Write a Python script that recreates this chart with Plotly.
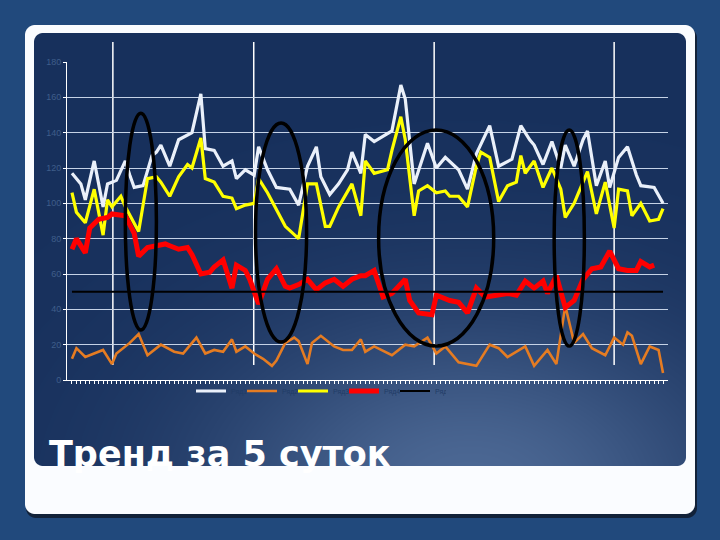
import base64, struct, zlib
import numpy as np
import plotly.graph_objects as go

# ---------------- data ----------------
white_x = [0,2,3,5,7,8,10,12,13,14,16,18,19,20,22,24,27,29,30,32,34,36,37,39,41,42,44,46,49,51,
           53,55,56,58,60,62,63,65,66,68,72,74,75,77,80,82,84,87,89,91,94,96,99,101,103,104,106,108,110,111,
           113,115,116,118,120,121,123,125,127,128,131,133]
white_y = [117,111,102,124,98,111,113,124,116,109,110,127,129,133,121,136,140,162,131,130,
           121,124,114,119,116,132,119,109,108,99,121,132,115,105,111,119,129,117,139,135,
           141,167,159,111,134,120,126,119,108,128,144,121,125,144,136,133,122,135,120,133,
           121,136,141,110,124,109,126,132,116,110,109,100]

orange_x = [0,1,3,5,7,9,10,13,15,17,20,23,25,28,30,32,34,36,37,39,41,43,45,46,48,50,51,53,54,56,
            59,61,63,65,66,68,72,75,77,80,82,84,87,91,94,96,98,102,104,107,109,111,113,115,117,120,122,124,125,126,
            128,130,132,133]
orange_y = [12,18,13,15,17,9,15,21,26,14,20,16,15,24,15,17,16,23,16,19,
            15,12,8,11,21,24,22,9,21,25,19,17,17,23,16,19,14,20,19,24,
            15,19,10,8,20,18,13,19,8,17,9,42,21,26,18,14,24,20,27,25,
            9,19,17,4]

yellow_x = [0,1,3,5,7,8,9,11,12,15,17,19,20,22,24,26,27,29,30,32,34,36,37,39,41,42,44,46,48,51,
            53,55,57,58,60,63,65,66,68,71,72,74,75,77,78,80,82,84,85,87,89,91,92,94,96,98,100,101,102,104,
            106,108,110,111,113,114,116,118,120,122,123,125,126,128,130,132,133]
yellow_y = [106,95,89,108,82,102,98,104,98,84,114,115,112,104,115,122,120,137,114,112,
            104,103,97,99,100,114,106,96,87,80,111,111,87,87,98,111,93,124,117,119,
            130,149,136,93,107,110,106,107,104,104,98,121,129,126,101,110,112,127,117,124,
            109,120,108,92,100,106,118,94,112,86,108,107,93,100,90,91,97]

red_x = [0,1,3,4,6,8,9,11,12,14,15,17,19,21,22,24,26,27,29,31,32,34,36,37,39,40,42,44,46,48,
         49,51,53,55,57,59,61,63,65,66,68,70,72,75,76,78,81,82,85,87,89,91,93,96,98,100,102,104,106,107,
         109,111,113,115,117,119,121,123,125,127,128,130,131]
red_y = [74,80,72,86,91,92,94,93,93,83,70,75,76,77,76,74,75,71,60,61,
         64,68,52,65,62,57,43,57,63,53,52,54,57,51,55,57,53,57,59,59,
         62,47,49,57,45,38,37,48,45,44,38,52,47,48,49,48,56,52,56,49,
         59,41,45,57,63,64,73,63,62,62,67,64,65]

norm_x = [0, 133]
norm_y = [50, 50]

series_names = ["Ряд1", "Ряд2", "Ряд3", "Ряд4", "Ряд5"]
y_ticks = [0, 20, 40, 60, 80, 100, 120, 140, 160, 180]

# highlighted regions (ellipses) and day separators, in data units
ell_x0 = [12.0, 41.3, 69.0, 108.5]
ell_x1 = [19.0, 52.8, 94.9, 115.3]
ell_y0 = [28.3, 21.5, 19.2, 19.2]
ell_y1 = [151.0, 145.5, 141.5, 141.5]
sep_x = [9.2, 40.9, 81.5, 122.0]

title_text = "Тренд за 5 суток"

# ---------------- background picture (slide frame) ----------------
W, H = 720, 540
ML, MR, MT, MB = 67, 52, 62, 160
PW, PH = W - ML - MR, H - MT - MB
XR = [-1.12, 134.12]
OUTER = (33, 73, 124)


def png_uri(arr):
    h, w, _ = arr.shape
    raw = b"".join(b"\x00" + arr[r].tobytes() for r in range(h))

    def chunk(t, d):
        c = struct.pack(">I", len(d)) + t + d
        return c + struct.pack(">I", zlib.crc32(t + d) & 0xFFFFFFFF)

    png = (b"\x89PNG\r\n\x1a\n"
           + chunk(b"IHDR", struct.pack(">IIBBBBB", w, h, 8, 2, 0, 0, 0))
           + chunk(b"IDAT", zlib.compress(raw, 9))
           + chunk(b"IEND", b""))
    return "data:image/png;base64," + base64.b64encode(png).decode()


yy, xx = np.mgrid[0:H, 0:W].astype(float) + 0.5


def rrect(x0, y0, x1, y1, r):
    cx = np.clip(xx, x0 + r, x1 - r)
    cy = np.clip(yy, y0 + r, y1 - r)
    d = np.hypot(xx - cx, yy - cy)
    return np.clip(r - d + 0.5, 0, 1)[..., None]


img = np.empty((H, W, 3))
img[:] = OUTER
sh = rrect(26, 28, 697, 518, 10) * 0.8
img = img * (1 - sh) + np.array([14, 24, 40]) * sh
wp = rrect(25, 25, 695, 514, 10)
img = img * (1 - wp) + np.array([250, 252, 255]) * wp
ip = rrect(34, 33, 686, 466, 9)
g = np.exp(-(((xx - 470) / 260) ** 2 + ((yy - 490) / 170) ** 2))[..., None]
dark = np.array([23, 48, 92])
light = np.array([76, 104, 148])
grad = dark + (light - dark) * g
img = img * (1 - ip) + grad * ip
bg = np.clip(img + 0.5, 0, 255).astype(np.uint8)

# ---------------- figure ----------------
fig = go.Figure()
specs = [
    (white_x, white_y, "#eaf0fa", 3.2),
    (orange_x, orange_y, "#e57c22", 2.6),
    (yellow_x, yellow_y, "#ffff00", 3.2),
    (red_x, red_y, "#ff0000", 5.0),
    (norm_x, norm_y, "#000000", 2.0),
]
for (xs, ys, col, w), name in zip(specs, series_names):
    fig.add_trace(go.Scatter(x=xs, y=ys, mode="lines", name=name,
                             line=dict(color=col, width=w)))

shapes = []
for sx in sep_x:
    px = (sx - XR[0]) / (XR[1] - XR[0])
    shapes.append(dict(type="line", xref="paper", yref="paper", x0=px, x1=px,
                       y0=15 / PH, y1=(PH + 20) / PH, layer="below",
                       line=dict(color="white", width=1.5)))
for a, b, c, d in zip(ell_x0, ell_x1, ell_y0, ell_y1):
    shapes.append(dict(type="circle", xref="x", yref="y", x0=a, x1=b, y0=c, y1=d,
                       layer="above", line=dict(color="black", width=3.5)))

fig.update_layout(
    width=W, height=H,
    margin=dict(l=ML, r=MR, t=MT, b=MB, pad=0),
    paper_bgcolor="rgb(%d,%d,%d)" % OUTER,
    plot_bgcolor="rgba(0,0,0,0)",
    showlegend=True,
    legend=dict(orientation="h", x=(191 - ML) / PW, y=-11 / PH, xanchor="left",
                yanchor="middle", font=dict(size=7, color="#213c66",
                                            family="Liberation Sans"),
                entrywidth=6, entrywidthmode="pixels",
                bgcolor="rgba(0,0,0,0)"),
    shapes=shapes,
    images=[dict(source=png_uri(bg), xref="paper", yref="paper",
                 x=-ML / PW, y=(PH + MT) / PH, sizex=W / PW, sizey=H / PH,
                 xanchor="left", yanchor="top", sizing="stretch", layer="below")],
    annotations=[dict(text="<b>" + title_text + "</b>", xref="paper", yref="paper",
                      x=(47 - ML) / PW, y=(PH - (454 - MT)) / PH,
                      xanchor="left", yanchor="middle", showarrow=False,
                      font=dict(family="DejaVu Sans", size=35, color="white"))],
)
fig.update_xaxes(range=XR, showgrid=False, zeroline=False, showline=True,
                 linecolor="white", linewidth=1, ticks="outside", ticklen=3,
                 tickcolor="white", tickwidth=1, tickvals=list(range(134)),
                 showticklabels=False)
fig.update_yaxes(range=[0, 180], tickvals=y_ticks, showgrid=True,
                 gridcolor="#c5d2e6", gridwidth=1, zeroline=False, showline=True,
                 linecolor="white", linewidth=1, ticks="outside", ticklen=3,
                 tickcolor="white", tickfont=dict(size=9, color="#3f5e8a",
                                                  family="Liberation Sans"))

fig.write_html("out.html",
               config={"displayModeBar": False},
               post_script="document.body.style.margin='0';"
                           "document.body.style.background='rgb(33,73,124)';")
